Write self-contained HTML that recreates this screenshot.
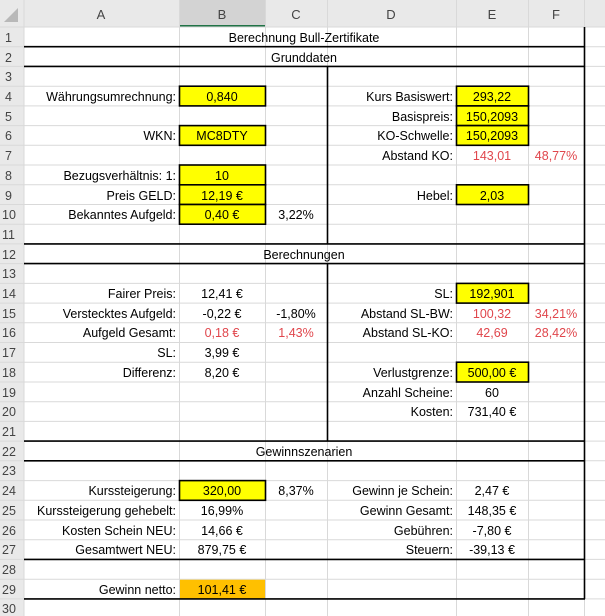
<!DOCTYPE html>
<html><head><meta charset="utf-8"><style>
html,body{margin:0;padding:0;background:#fff;}
svg{display:block;font-family:"Liberation Sans",sans-serif;}
</style></head><body>
<svg width="605" height="616" xmlns="http://www.w3.org/2000/svg">
<rect width="605" height="616" fill="#fff"/>
<!-- header bar -->
<rect x="0" y="0" width="605" height="27" fill="#e9e9e9"/>
<rect x="179" y="0" width="86" height="27" fill="#d3d3d3"/>
<rect x="179" y="25" width="86" height="2" fill="#217346"/>
<rect x="0" y="27" width="24" height="589" fill="#e9e9e9"/>
<polygon points="18,8 18,22 4,22" fill="#b8b8b8"/>
<!-- gridlines -->
<g stroke="#d9d9d9" stroke-width="1">
<line x1="24" y1="0" x2="24" y2="616"/>
<line x1="179.5" y1="0" x2="179.5" y2="616"/>
<line x1="265.5" y1="0" x2="265.5" y2="616"/>
<line x1="327.5" y1="0" x2="327.5" y2="616"/>
<line x1="456.5" y1="0" x2="456.5" y2="616"/>
<line x1="528.5" y1="0" x2="528.5" y2="616"/>
<line x1="584.5" y1="0" x2="584.5" y2="616"/>
<line x1="0" y1="27" x2="605" y2="27"/>
<line x1="0" y1="46.7" x2="605" y2="46.7"/><line x1="0" y1="66.4" x2="605" y2="66.4"/>
<line x1="0" y1="86.2" x2="605" y2="86.2"/><line x1="0" y1="105.9" x2="605" y2="105.9"/>
<line x1="0" y1="125.6" x2="605" y2="125.6"/><line x1="0" y1="145.3" x2="605" y2="145.3"/>
<line x1="0" y1="165" x2="605" y2="165"/><line x1="0" y1="184.8" x2="605" y2="184.8"/>
<line x1="0" y1="204.5" x2="605" y2="204.5"/><line x1="0" y1="224.2" x2="605" y2="224.2"/>
<line x1="0" y1="243.9" x2="605" y2="243.9"/><line x1="0" y1="263.6" x2="605" y2="263.6"/>
<line x1="0" y1="283.4" x2="605" y2="283.4"/><line x1="0" y1="303.1" x2="605" y2="303.1"/>
<line x1="0" y1="322.8" x2="605" y2="322.8"/><line x1="0" y1="342.5" x2="605" y2="342.5"/>
<line x1="0" y1="362.2" x2="605" y2="362.2"/><line x1="0" y1="382" x2="605" y2="382"/>
<line x1="0" y1="401.7" x2="605" y2="401.7"/><line x1="0" y1="421.4" x2="605" y2="421.4"/>
<line x1="0" y1="441.1" x2="605" y2="441.1"/><line x1="0" y1="460.8" x2="605" y2="460.8"/>
<line x1="0" y1="480.6" x2="605" y2="480.6"/><line x1="0" y1="500.3" x2="605" y2="500.3"/>
<line x1="0" y1="520" x2="605" y2="520"/><line x1="0" y1="539.7" x2="605" y2="539.7"/>
<line x1="0" y1="559.4" x2="605" y2="559.4"/><line x1="0" y1="579.2" x2="605" y2="579.2"/>
<line x1="0" y1="598.9" x2="605" y2="598.9"/>
</g>
<!-- header text -->
<g font-size="13" fill="#444" text-anchor="middle">
<text x="101" y="19">A</text><text x="222" y="19">B</text><text x="296" y="19">C</text>
<text x="391" y="19">D</text><text x="492" y="19">E</text><text x="556" y="19">F</text>
</g>
<g font-size="12.5" fill="#444">
<text x="5" y="42">1</text><text x="5" y="62">2</text><text x="5" y="81">3</text><text x="5" y="101">4</text>
<text x="5" y="121">5</text><text x="5" y="140">6</text><text x="5" y="160">7</text><text x="5" y="180">8</text>
<text x="5" y="200">9</text><text x="2" y="219">10</text><text x="2" y="239">11</text><text x="2" y="259">12</text>
<text x="2" y="278">13</text><text x="2" y="298">14</text><text x="2" y="318">15</text><text x="2" y="337">16</text>
<text x="2" y="357">17</text><text x="2" y="377">18</text><text x="2" y="397">19</text><text x="2" y="416">20</text>
<text x="2" y="436">21</text><text x="2" y="456">22</text><text x="2" y="475">23</text><text x="2" y="495">24</text>
<text x="2" y="515">25</text><text x="2" y="535">26</text><text x="2" y="554">27</text><text x="2" y="574">28</text>
<text x="2" y="594">29</text><text x="2" y="613">30</text>
</g>
<!-- fills -->
<g fill="#ffff00" stroke="#000" stroke-width="1.6">
<rect x="179.5" y="86.2" width="86" height="19.7"/>
<rect x="179.5" y="125.6" width="86" height="19.7"/>
<rect x="179.5" y="165" width="86" height="19.8"/>
<rect x="179.5" y="184.8" width="86" height="19.7"/>
<rect x="179.5" y="204.5" width="86" height="19.7"/>
<rect x="456.5" y="86.2" width="72" height="19.7"/>
<rect x="456.5" y="105.9" width="72" height="19.7"/>
<rect x="456.5" y="125.6" width="72" height="19.7"/>
<rect x="456.5" y="184.8" width="72" height="19.7"/>
<rect x="456.5" y="283.4" width="72" height="19.7"/>
<rect x="456.5" y="362.2" width="72" height="19.8"/>
<rect x="179.5" y="480.6" width="86" height="19.7"/>
</g>
<rect x="180" y="579.7" width="85" height="19" fill="#ffc000"/>
<!-- thick borders -->
<g stroke="#000" stroke-width="1.6">
<line x1="24" y1="46.7" x2="585" y2="46.7"/>
<line x1="24" y1="66.4" x2="585" y2="66.4"/>
<line x1="24" y1="243.9" x2="585" y2="243.9"/>
<line x1="24" y1="263.6" x2="585" y2="263.6"/>
<line x1="24" y1="441.1" x2="585" y2="441.1"/>
<line x1="24" y1="460.8" x2="585" y2="460.8"/>
<line x1="24" y1="559.4" x2="585" y2="559.4"/>
<line x1="24" y1="598.9" x2="585" y2="598.9"/>
<line x1="327.5" y1="66.4" x2="327.5" y2="243.9"/>
<line x1="327.5" y1="263.6" x2="327.5" y2="441.1"/>
<line x1="584.5" y1="27" x2="584.5" y2="598.9"/>
</g>
<!-- text -->
<g font-size="12.5" fill="#000">
<g text-anchor="middle">
<text x="304" y="42">Berechnung Bull-Zertifikate</text>
<text x="304" y="62">Grunddaten</text>
<text x="304" y="259">Berechnungen</text>
<text x="304" y="456">Gewinnszenarien</text>
<text x="222" y="101">0,840</text>
<text x="222" y="140">MC8DTY</text>
<text x="222" y="180">10</text>
<text x="222" y="200">12,19 €</text>
<text x="222" y="219">0,40 €</text>
<text x="296" y="219">3,22%</text>
<text x="492" y="101">293,22</text>
<text x="492" y="121">150,2093</text>
<text x="492" y="140">150,2093</text>
<text x="492" y="200">2,03</text>
<text x="222" y="298">12,41 €</text>
<text x="222" y="318">-0,22 €</text>
<text x="296" y="318">-1,80%</text>
<text x="222" y="357">3,99 €</text>
<text x="222" y="377">8,20 €</text>
<text x="492" y="298">192,901</text>
<text x="492" y="377">500,00 €</text>
<text x="492" y="397">60</text>
<text x="492" y="416">731,40 €</text>
<text x="222" y="495">320,00</text>
<text x="296" y="495">8,37%</text>
<text x="222" y="515">16,99%</text>
<text x="222" y="535">14,66 €</text>
<text x="222" y="554">879,75 €</text>
<text x="222" y="594">101,41 €</text>
<text x="492" y="495">2,47 €</text>
<text x="492" y="515">148,35 €</text>
<text x="492" y="535">-7,80 €</text>
<text x="492" y="554">-39,13 €</text>
<g fill="#e0464c">
<text x="492" y="160">143,01</text>
<text x="556" y="160">48,77%</text>
<text x="222" y="337">0,18 €</text>
<text x="296" y="337">1,43%</text>
<text x="492" y="318">100,32</text>
<text x="556" y="318">34,21%</text>
<text x="492" y="337">42,69</text>
<text x="556" y="337">28,42%</text>
</g>
</g>
<g text-anchor="end">
<text x="176" y="101">Währungsumrechnung:</text>
<text x="176" y="140">WKN:</text>
<text x="176" y="180">Bezugsverhältnis: 1:</text>
<text x="176" y="200">Preis GELD:</text>
<text x="176" y="219">Bekanntes Aufgeld:</text>
<text x="453" y="101">Kurs Basiswert:</text>
<text x="453" y="121">Basispreis:</text>
<text x="453" y="140">KO-Schwelle:</text>
<text x="453" y="160">Abstand KO:</text>
<text x="453" y="200">Hebel:</text>
<text x="176" y="298">Fairer Preis:</text>
<text x="176" y="318">Verstecktes Aufgeld:</text>
<text x="176" y="337">Aufgeld Gesamt:</text>
<text x="176" y="357">SL:</text>
<text x="176" y="377">Differenz:</text>
<text x="453" y="298">SL:</text>
<text x="453" y="318">Abstand SL-BW:</text>
<text x="453" y="337">Abstand SL-KO:</text>
<text x="453" y="377">Verlustgrenze:</text>
<text x="453" y="397">Anzahl Scheine:</text>
<text x="453" y="416">Kosten:</text>
<text x="176" y="495">Kurssteigerung:</text>
<text x="176" y="515">Kurssteigerung gehebelt:</text>
<text x="176" y="535">Kosten Schein NEU:</text>
<text x="176" y="554">Gesamtwert NEU:</text>
<text x="176" y="594">Gewinn netto:</text>
<text x="453" y="495">Gewinn je Schein:</text>
<text x="453" y="515">Gewinn Gesamt:</text>
<text x="453" y="535">Gebühren:</text>
<text x="453" y="554">Steuern:</text>
</g>
</g>
</svg>
</body></html>
